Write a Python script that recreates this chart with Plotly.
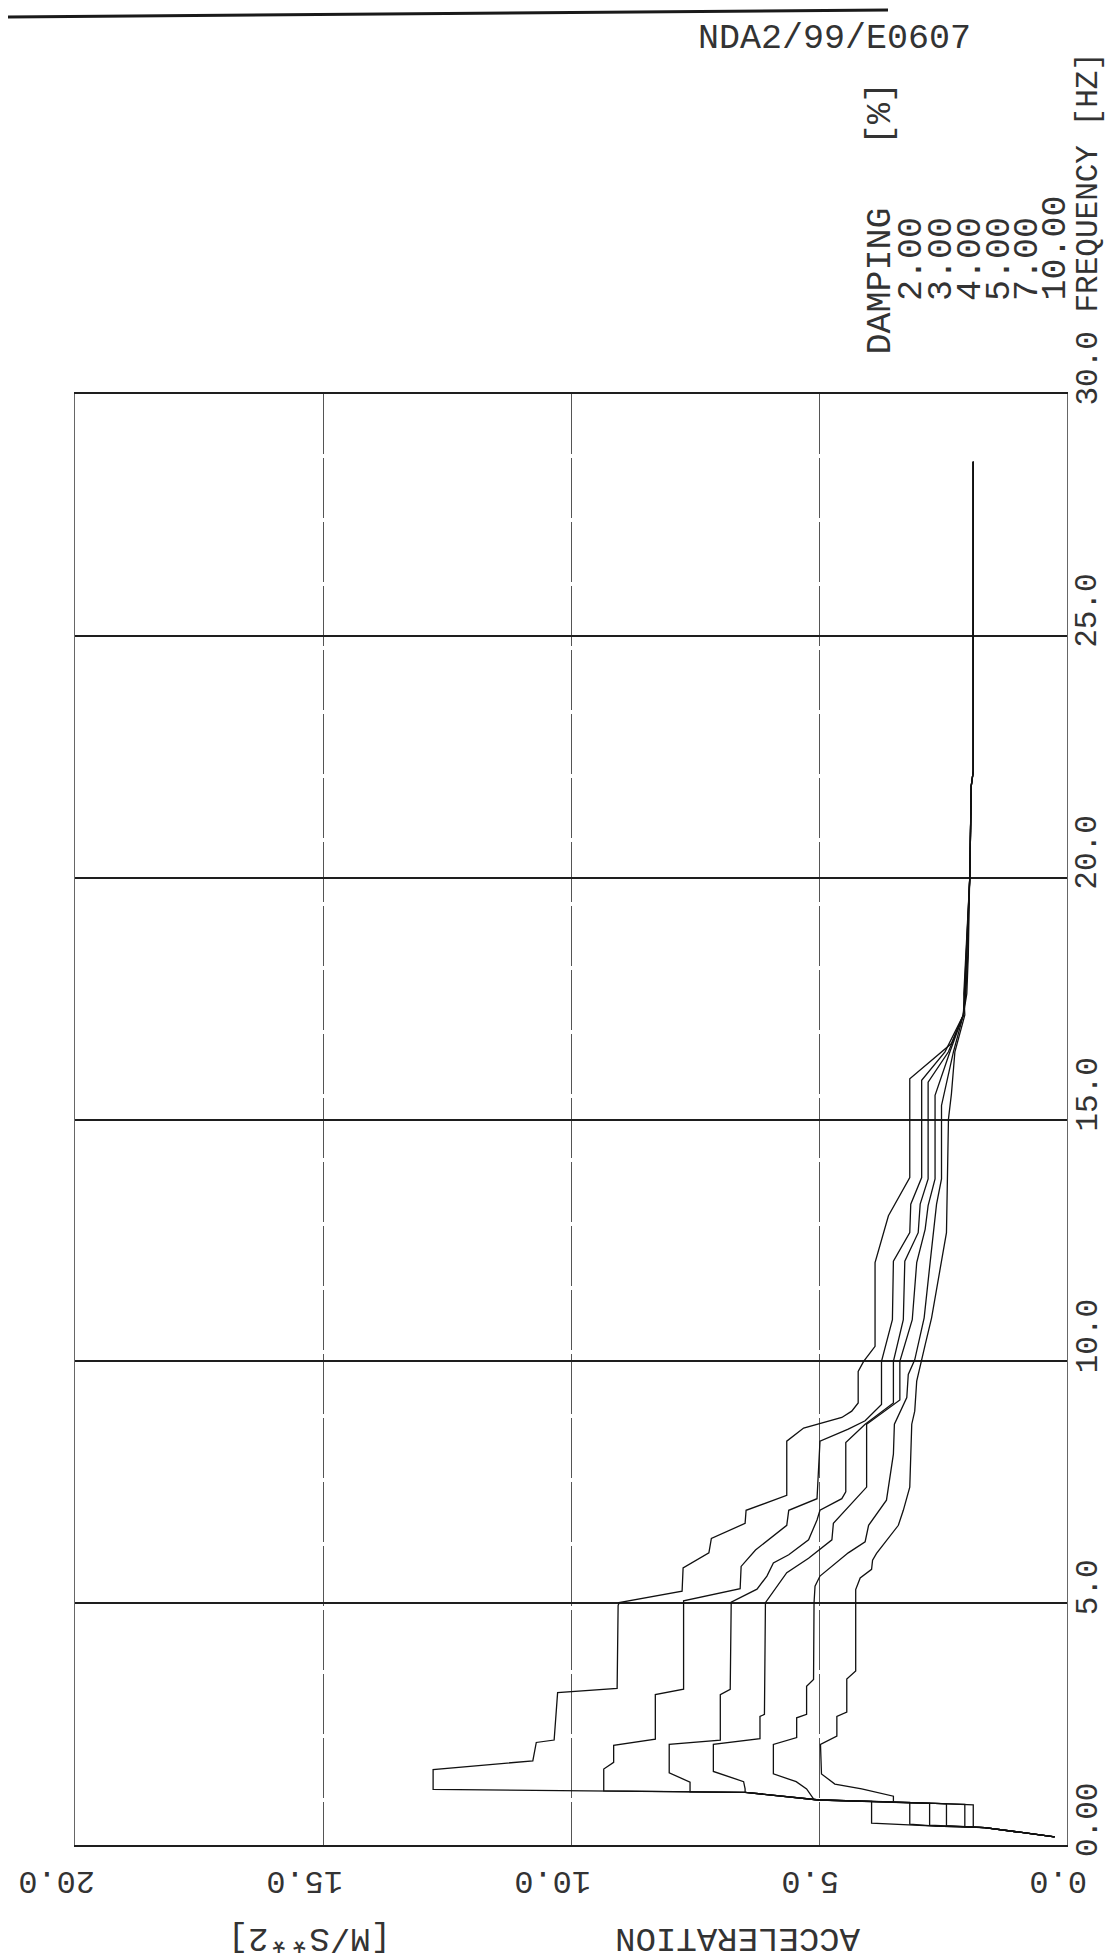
import plotly.graph_objects as go

# ---------------- data (frequency in Hz, acceleration in m/s**2) ----------------
damping_labels = ["2.00", "3.00", "4.00", "5.00", "7.00", "10.00"]

f_d2 = [0.17, 0.36, 0.39, 0.45, 0.90, 0.93, 1.09, 1.13, 1.15, 1.56, 1.74, 2.12, 2.17, 3.15, 3.24,
        4.95, 5.01, 5.25, 5.73, 6.04, 6.34, 6.65, 6.92, 7.23, 8.35, 8.62, 8.70, 8.84, 8.97, 9.14,
        9.79, 10.0, 10.31, 12.04, 13.01, 13.80, 15.84, 16.40, 16.57, 17.16, 17.6, 18.4, 19.5, 20.0,
        21.9, 22.2, 28.6]
a_d2 = [0.25, 1.66, 2.65, 3.94, 3.94, 5.0, 6.49, 10.05, 12.78, 12.78, 10.77, 10.70, 10.34, 10.27, 9.07,
        9.05, 9.03, 7.76, 7.74, 7.22, 7.17, 6.49, 6.47, 5.65, 5.65, 5.31, 5.01, 4.54, 4.34, 4.21,
        4.21, 4.10, 3.87, 3.87, 3.60, 3.17, 3.17, 2.53, 2.33, 2.09, 2.02, 1.99, 1.97, 1.96,
        1.93, 1.89, 1.89]

f_d3 = [0.17, 0.36, 0.39, 0.43, 0.88, 0.90, 0.93, 1.09, 1.12, 1.57, 1.71, 2.06, 2.19, 3.11, 3.22,
        5.05, 5.30, 5.76, 6.10, 6.61, 6.92, 7.16, 8.35, 8.60, 8.77, 9.11, 10.0, 10.86, 12.07, 12.66,
        13.25, 13.80, 15.81, 16.40, 17.16, 17.6, 18.4, 19.5, 20.0, 21.9, 22.2, 28.6]
a_d3 = [0.25, 1.66, 2.65, 3.17, 3.17, 4.14, 5.0, 6.49, 9.34, 9.34, 9.14, 9.14, 8.30, 8.30, 7.73,
        7.73, 6.59, 6.57, 6.28, 5.65, 5.61, 5.04, 4.98, 4.41, 4.07, 3.74, 3.74, 3.52, 3.50, 3.17,
        3.15, 2.93, 2.93, 2.46, 2.09, 2.04, 2.00, 1.98, 1.96, 1.93, 1.89, 1.89]

f_d4 = [0.17, 0.36, 0.41, 0.86, 0.90, 0.93, 1.09, 1.10, 1.30, 1.49, 2.08, 2.17, 3.11, 3.22, 5.02,
        5.29, 5.56, 5.83, 6.00, 6.31, 6.72, 6.92, 7.16, 7.30, 8.32, 8.70, 9.14, 10.0, 10.86, 12.07,
        12.66, 13.25, 13.77, 15.77, 16.40, 17.16, 17.6, 18.4, 19.5, 20.0, 21.9, 22.2, 28.6]
a_d4 = [0.25, 1.66, 2.77, 2.77, 4.14, 5.0, 6.49, 7.60, 7.60, 8.02, 8.02, 6.99, 6.99, 6.79, 6.77,
        6.25, 6.05, 5.92, 5.61, 5.21, 5.04, 4.98, 4.54, 4.46, 4.46, 4.07, 3.50, 3.50, 3.30, 3.27,
        3.00, 2.96, 2.80, 2.80, 2.39, 2.09, 2.05, 2.02, 1.98, 1.96, 1.93, 1.89, 1.89]

f_d5 = [0.17, 0.36, 0.40, 0.85, 0.86, 0.90, 0.93, 1.09, 1.16, 1.31, 1.52, 2.08, 2.20, 2.66, 2.70,
        5.01, 5.63, 5.93, 6.31, 6.65, 6.99, 7.40, 8.70, 9.14, 9.20, 10.0, 10.86, 12.04, 12.73, 13.22,
        13.77, 15.50, 16.40, 17.16, 17.6, 18.4, 19.5, 20.0, 21.9, 22.2, 28.6]
a_d5 = [0.25, 1.66, 2.43, 2.43, 2.66, 4.14, 5.0, 6.49, 6.49, 6.52, 7.13, 7.13, 6.19, 6.19, 6.10,
        6.08, 5.65, 5.21, 4.74, 4.71, 4.41, 4.04, 4.04, 3.47, 3.37, 3.37, 3.12, 3.03, 2.86, 2.80,
        2.66, 2.66, 2.36, 2.09, 2.06, 2.03, 1.98, 1.96, 1.93, 1.89, 1.89]

f_d7 = [0.17, 0.36, 0.38, 0.84, 0.86, 0.90, 0.93, 0.94, 1.16, 1.31, 1.47, 2.08, 2.22, 2.63, 2.70,
        3.28, 3.42, 5.01, 5.35, 5.56, 6.04, 6.27, 6.61, 7.13, 8.08, 8.70, 9.25, 9.73, 10.03, 10.9,
        12.04, 13.25, 13.77, 15.29, 16.40, 17.16, 17.6, 18.4, 19.5, 20.0, 21.9, 22.2, 28.6]
a_d7 = [0.25, 1.66, 2.06, 2.06, 2.66, 4.14, 5.0, 5.10, 5.25, 5.46, 5.92, 5.92, 5.45, 5.45, 5.25,
        5.25, 5.11, 5.10, 5.08, 4.98, 4.41, 4.07, 4.00, 3.64, 3.50, 3.48, 3.23, 3.20, 3.07, 2.88,
        2.76, 2.63, 2.53, 2.53, 2.29, 2.09, 2.07, 2.03, 1.99, 1.96, 1.93, 1.89, 1.89]

f_d10 = [0.17, 0.36, 0.37, 0.83, 0.86, 0.88, 1.01, 1.16, 1.26, 1.47, 2.08, 2.25, 2.66, 2.75, 3.43,
         3.60, 5.28, 5.52, 5.70, 5.89, 6.03, 6.61, 6.92, 7.40, 8.70, 8.97, 9.59, 10.0, 10.34, 10.9,
         12.66, 15.01, 15.53, 16.40, 17.16, 17.6, 18.4, 19.5, 20.0, 21.9, 22.2, 28.6]
a_d10 = [0.25, 1.66, 1.89, 1.89, 2.66, 3.50, 3.50, 4.14, 4.68, 4.95, 4.97, 4.64, 4.64, 4.44, 4.44,
         4.26, 4.26, 4.17, 3.94, 3.92, 3.84, 3.40, 3.30, 3.17, 3.13, 3.07, 3.03, 2.93, 2.86, 2.73,
         2.43, 2.39, 2.33, 2.26, 2.06, 2.08, 2.04, 1.99, 1.96, 1.93, 1.89, 1.89]

series = [(f_d2, a_d2), (f_d3, a_d3), (f_d4, a_d4), (f_d5, a_d5), (f_d7, a_d7), (f_d10, a_d10)]

accel_ticks = [20, 15, 10, 5, 0]
accel_tick_labels = ["20.0", "15.0", "10.0", "5.0", "0.0"]
freq_ticks = [0, 5, 10, 15, 20, 25, 30]
freq_tick_labels = ["0.00", "5.0", "10.0", "15.0", "20.0", "25.0", "30.0 FREQUENCY [HZ]"]

title_text = "NDA2/99/E0607"
damping_title = "DAMPING"
damping_unit = "[%]"
accel_title = "ACCELERATION"
accel_unit = "[M/S**2]"

# ---------------- layout geometry (pixels) ----------------
W, H = 1114, 1956
L, R, T, B = 67, 1059, 386, 1837
FONT = "Liberation Mono"
INK = "#333333"


def px_x(x):
    return (x - L) / (R - L)


def px_y(y):
    return (B - y) / (B - T)


fig = go.Figure()
for f, a in series:
    fig.add_trace(go.Scatter(x=a, y=f, mode="lines", line=dict(color="#111111", width=1.3),
                             showlegend=False, hoverinfo="skip"))

ann = []
# frequency tick labels (rotated, reading bottom to top)
for v, t in zip(freq_ticks, freq_tick_labels):
    ann.append(dict(x=px_x(1080), xref="paper", y=v, yref="y", text=t, textangle=-90,
                    xanchor="center", yanchor="bottom", yshift=-14, showarrow=False,
                    font=dict(family=FONT, size=31, color=INK)))
# acceleration tick labels (upside down)
for v, t in zip(accel_ticks, accel_tick_labels):
    ann.append(dict(x=v, xref="x", y=px_y(1872), yref="paper", text=t, textangle=180,
                    xanchor="right", yanchor="middle", xshift=22, showarrow=False,
                    font=dict(family=FONT, size=32, color=INK)))
# axis title pieces (upside down)
ann.append(dict(x=px_x(854), xref="paper", y=px_y(1930), yref="paper", text=accel_title,
                textangle=180, xanchor="right", yanchor="middle", showarrow=False,
                font=dict(family=FONT, size=34, color=INK)))
ann.append(dict(x=px_x(385), xref="paper", y=px_y(1930), yref="paper", text=accel_unit,
                textangle=180, xanchor="right", yanchor="middle", showarrow=False,
                font=dict(family=FONT, size=34, color=INK)))
# header id
ann.append(dict(x=px_x(688), xref="paper", y=px_y(31), yref="paper", text=title_text,
                xanchor="left", yanchor="middle", showarrow=False,
                font=dict(family=FONT, size=35, color=INK)))
# damping block
ann.append(dict(x=px_x(872), xref="paper", y=px_y(349), yref="paper", text=damping_title,
                textangle=-90, xanchor="center", yanchor="bottom", showarrow=False,
                font=dict(family=FONT, size=35, color=INK)))
ann.append(dict(x=px_x(873), xref="paper", y=px_y(106), yref="paper", text=damping_unit,
                textangle=-90, xanchor="center", yanchor="middle", showarrow=False,
                font=dict(family=FONT, size=35, color=INK)))
legend_x = [904, 934, 963, 992, 1020, 1047]
for xx, t in zip(legend_x, damping_labels):
    ann.append(dict(x=px_x(xx), xref="paper", y=px_y(295), yref="paper", text=t,
                    textangle=-90, xanchor="center", yanchor="bottom", showarrow=False,
                    font=dict(family=FONT, size=35, color=INK)))

shapes = [
    # scanned page edge at the very top
    dict(type="line", xref="paper", yref="paper", x0=px_x(0), y0=px_y(9), x1=px_x(880), y1=px_y(2),
         line=dict(color="#1a1a1a", width=3)),
]

fig.update_layout(
    width=W, height=H, autosize=False,
    margin=dict(l=L, r=W - R, t=T, b=H - B, pad=0),
    paper_bgcolor="white", plot_bgcolor="white",
    annotations=ann, shapes=shapes,
    xaxis=dict(range=[20, 0], tickvals=[15, 10, 5], showticklabels=False, ticks="",
               showgrid=True, gridcolor="#555555", gridwidth=1, griddash="60px,4px",
               zeroline=False, showline=True, mirror=True, linecolor="#1e1e1e", linewidth=2),
    yaxis=dict(range=[0, 30], tickvals=[5, 10, 15, 20, 25], showticklabels=False, ticks="",
               showgrid=True, gridcolor="#1e1e1e", gridwidth=1.8,
               zeroline=False, showline=True, mirror=True, linecolor="#666666", linewidth=1),
)

fig.write_html("out.html")
